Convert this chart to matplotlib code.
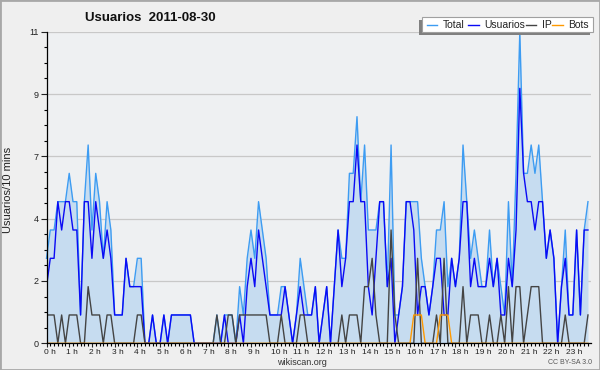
import numpy as np
import matplotlib
matplotlib.use("Agg")
import matplotlib.pyplot as plt
import matplotlib.transforms as mtransforms
from matplotlib.patches import Rectangle
from matplotlib.lines import Line2D

plt.rcParams['font.family'] = ['Liberation Sans', 'DejaVu Sans']

# valores cada 10 minutos (144 puntos)
usuarios = [2, 3, 3, 5, 4, 5, 5, 4, 4, 1, 5, 5,
            3, 5, 4, 3, 4, 3, 1, 1, 1, 3, 2, 2,
            2, 2, 0, 0, 1, 0, 0, 1, 0, 1, 1, 1,
            1, 1, 1, 0, 0, 0, 0, 0, 0, 0, 0, 1,
            0, 0, 0, 1, 0, 2, 3, 2, 4, 3, 2, 1,
            1, 1, 1, 2, 1, 0, 1, 2, 1, 1, 1, 2,
            0, 1, 2, 0, 2, 4, 2, 3, 5, 5, 7, 5,
            5, 2, 1, 3, 5, 5, 2, 3, 0, 1, 2, 5,
            5, 4, 1, 2, 2, 1, 2, 3, 3, 1, 1, 3,
            2, 3, 5, 5, 2, 3, 2, 2, 2, 3, 2, 3,
            1, 1, 3, 2, 4, 9, 6, 5, 5, 4, 5, 5,
            3, 4, 3, 0, 2, 3, 1, 1, 4, 1, 4, 4]

ip = [1, 1, 1, 0, 1, 0, 1, 1, 1, 0, 0, 2,
      1, 1, 1, 0, 1, 1, 0, 0, 0, 0, 0, 0,
      1, 1, 0, 0, 0, 0, 0, 0, 0, 0, 0, 0,
      0, 0, 0, 0, 0, 0, 0, 0, 0, 1, 0, 0,
      1, 1, 0, 1, 1, 1, 1, 1, 1, 1, 1, 0,
      0, 0, 1, 0, 0, 0, 0, 1, 1, 0, 0, 0,
      0, 0, 0, 0, 0, 0, 1, 0, 1, 1, 1, 0,
      2, 2, 3, 1, 0, 0, 0, 4, 1, 0, 0, 0,
      0, 0, 3, 0, 0, 0, 0, 1, 0, 3, 0, 0,
      0, 0, 2, 0, 1, 1, 1, 0, 0, 1, 0, 0,
      1, 0, 2, 0, 2, 2, 0, 1, 2, 2, 2, 0,
      0, 0, 0, 0, 0, 1, 0, 0, 0, 0, 0, 1]

bots = [0] * 97 + [1, 1, 1, 0, 0, 0, 0, 1, 1, 1] + [0] * 37

total = [3, 4, 4, 5, 5, 5, 6, 5, 5, 1, 5, 7,
         4, 6, 5, 3, 5, 4, 1, 1, 1, 3, 2, 2,
         3, 3, 0, 0, 1, 0, 0, 1, 0, 1, 1, 1,
         1, 1, 1, 0, 0, 0, 0, 0, 0, 1, 0, 1,
         1, 1, 0, 2, 1, 3, 4, 3, 5, 4, 3, 1,
         1, 1, 2, 2, 1, 0, 1, 3, 2, 1, 1, 2,
         0, 1, 2, 0, 2, 4, 3, 3, 6, 6, 8, 5,
         7, 4, 4, 4, 5, 5, 2, 7, 1, 1, 2, 5,
         5, 5, 5, 3, 2, 1, 2, 4, 4, 5, 2, 3,
         2, 3, 7, 5, 3, 4, 3, 2, 2, 4, 2, 3,
         2, 1, 5, 2, 6, 11, 6, 6, 7, 6, 7, 5,
         3, 4, 3, 0, 2, 4, 1, 1, 4, 1, 4, 5]

hour_labels = [f"{h} h" for h in range(24)]
y_ticks = [0, 2.2, 4.4, 6.6, 8.8, 11]
y_labels = ['0', '2', '4', '7', '9', '11']

W, H = 600, 370


def fx(x):
    return x / W


def fy(y):
    return 1 - y / H


fig = plt.figure(figsize=(6, 3.7), dpi=100)
fig.patch.set_facecolor('#efefef')

ax = fig.add_axes([fx(46.5), fy(343.3), (591 - 46.5) / W, (343.3 - 31.7) / H])
ax.set_facecolor('#eef0f2')

x = np.arange(len(total))
ax.fill_between(x, 0, total, color='#c6dcf0', lw=0, zorder=1)
ax.plot(x, total, color='#3d9cf2', lw=1.0, zorder=2, clip_on=False)
ax.plot(x, usuarios, color='#0a0af5', lw=1.0, zorder=2.1)
ax.plot(x, ip, color='#444444', lw=1.0, zorder=2.2)
ax.plot(x, bots, color='#ff9900', lw=1.0, zorder=2.3)

ax.set_xlim(0, 143.8)
ax.set_ylim(0, 11)

ax.set_yticks(y_ticks)
ax.set_yticklabels(y_labels)
ax.set_yticks(np.arange(0, 11.01, 0.55), minor=True)
ax.set_xticks(np.arange(0, 144, 6))
ax.set_xticklabels(hour_labels)
ax.set_xticks(np.arange(0, 144, 1), minor=True)

ax.tick_params(axis='y', which='major', length=4, width=0.8, pad=1.5,
               labelsize=6.5, colors='#222222')
ax.tick_params(axis='y', which='minor', length=2.5, width=0.8)
ax.tick_params(axis='x', which='major', length=3, width=0.8, pad=0.8,
               labelsize=6, colors='#222222')
ax.tick_params(axis='x', which='minor', length=2.5, width=0.8)
shift = mtransforms.ScaledTranslation(-3 / 100, 0, fig.dpi_scale_trans)
for lab in ax.get_xticklabels():
    lab.set_horizontalalignment('left')
    lab.set_transform(lab.get_transform() + shift)

ax.grid(axis='y', which='major', color='#c8c8c8', lw=0.9)
ax.set_axisbelow(True)
for s in ['top', 'right']:
    ax.spines[s].set_visible(False)
for s in ['left', 'bottom']:
    ax.spines[s].set_linewidth(0.9)
    ax.spines[s].set_zorder(3)

# textos
fig.text(fx(85), fy(21), "Usuarios  2011-08-30", fontsize=9.5, fontweight='bold',
         ha='left', va='baseline', color='#111111')
fig.text(fx(8), fy(190), "Usuarios/10 mins", rotation=90, fontsize=8,
         ha='center', va='center', color='#222222')
fig.text(fx(302), fy(362.5), "wikiscan.org", fontsize=6.5, ha='center', va='center',
         color='#333333')
fig.text(fx(592), fy(363), "CC BY-SA 3.0", fontsize=5, ha='right', va='center',
         color='#555555')

# leyenda
fig.patches.append(Rectangle((fx(419), fy(35)), (593 - 422) / W, 15 / H,
                             transform=fig.transFigure, facecolor='#808080',
                             edgecolor='none', zorder=5))
fig.patches.append(Rectangle((fx(422), fy(32)), (593 - 422) / W, 15 / H,
                             transform=fig.transFigure, facecolor='white',
                             edgecolor='#a0a0a0', lw=0.8, zorder=6))
entries = [("Total", '#3d9cf2', 427, 437, 443),
           ("Usuarios", '#0a0af5', 468, 479, 484),
           ("IP", '#444444', 526, 536, 542),
           ("Bots", '#ff9900', 552, 563, 568)]
for name, col, x0, x1, xt in entries:
    fig.lines.append(Line2D([fx(x0), fx(x1)], [fy(24.5), fy(24.5)], color=col, lw=1.0,
                            transform=fig.transFigure, zorder=7))
    fig.text(fx(xt), fy(24.5), name, fontsize=7.5, ha='left', va='center',
             color='#222222', zorder=7)

# borde exterior
fig.patches.append(Rectangle((0, 0), 1, 1, transform=fig.transFigure, fill=False,
                             edgecolor='#a8a8a8', lw=2))

fig.savefig("out.png", dpi=100, facecolor=fig.get_facecolor())
